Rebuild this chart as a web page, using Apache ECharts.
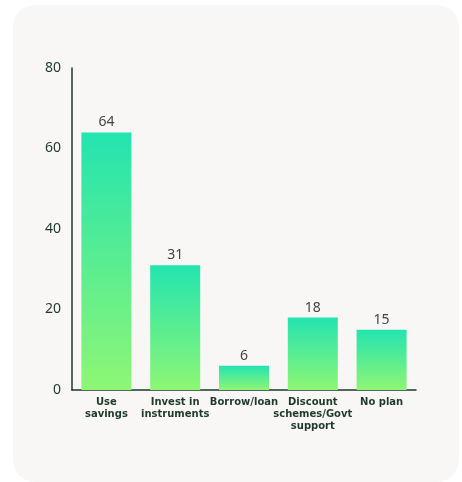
<!DOCTYPE html>
<html>
<head>
<meta charset="utf-8">
<script src="https://cdn.jsdelivr.net/npm/echarts@6/dist/echarts.min.js"></script>
<style>
  html, body { margin: 0; padding: 0; background: #ffffff; }
  #chart { width: 462px; height: 482px; }
</style>
</head>
<body>
<div id="chart"></div>
<script>
// Categories and response counts
const categories = ['Use\nsavings', 'Invest in\ninstruments', 'Borrow/loan', 'Discount\nschemes/Govt\nsupport', 'No plan'];
const values = [64, 31, 6, 18, 15];
const yTicks = [0, 20, 40, 60, 80];

const chart = echarts.init(document.getElementById('chart'));

const barGradient = new echarts.graphic.LinearGradient(0, 0, 0, 1, [
  { offset: 0, color: '#23e4b0' },
  { offset: 1, color: '#8ef674' }
]);

chart.setOption({
  animation: false,
  graphic: [{
    type: 'rect',
    left: 13, top: 5,
    shape: { width: 446, height: 477, r: 22 },
    style: { fill: '#f8f7f5' },
    z: -10
  }],
  grid: { left: 72, right: 46, top: 68, bottom: 92 },
  xAxis: {
    type: 'category',
    data: categories,
    axisLine: { lineStyle: { color: '#1d3a2a', width: 1.5 } },
    axisTick: { show: false },
    axisLabel: {
      interval: 0,
      color: '#1d3a2a',
      fontFamily: 'DejaVu Sans',
      fontWeight: 'bold',
      fontSize: 10,
      lineHeight: 12,
      margin: 6
    }
  },
  yAxis: {
    type: 'value',
    min: yTicks[0],
    max: yTicks[yTicks.length - 1],
    interval: 20,
    axisLine: { show: true, lineStyle: { color: '#1d3a2a', width: 1.5 } },
    axisTick: { show: false },
    splitLine: { show: false },
    axisLabel: {
      color: '#1d3a2a',
      fontFamily: 'Noto Sans',
      fontSize: 14,
      margin: 11
    }
  },
  series: [{
    type: 'bar',
    data: values,
    barWidth: 50,
    itemStyle: { color: barGradient },
    label: {
      show: true,
      position: 'top',
      color: '#444444',
      fontFamily: 'Noto Sans',
      fontSize: 14,
      distance: 3
    }
  }]
});
</script>
</body>
</html>
